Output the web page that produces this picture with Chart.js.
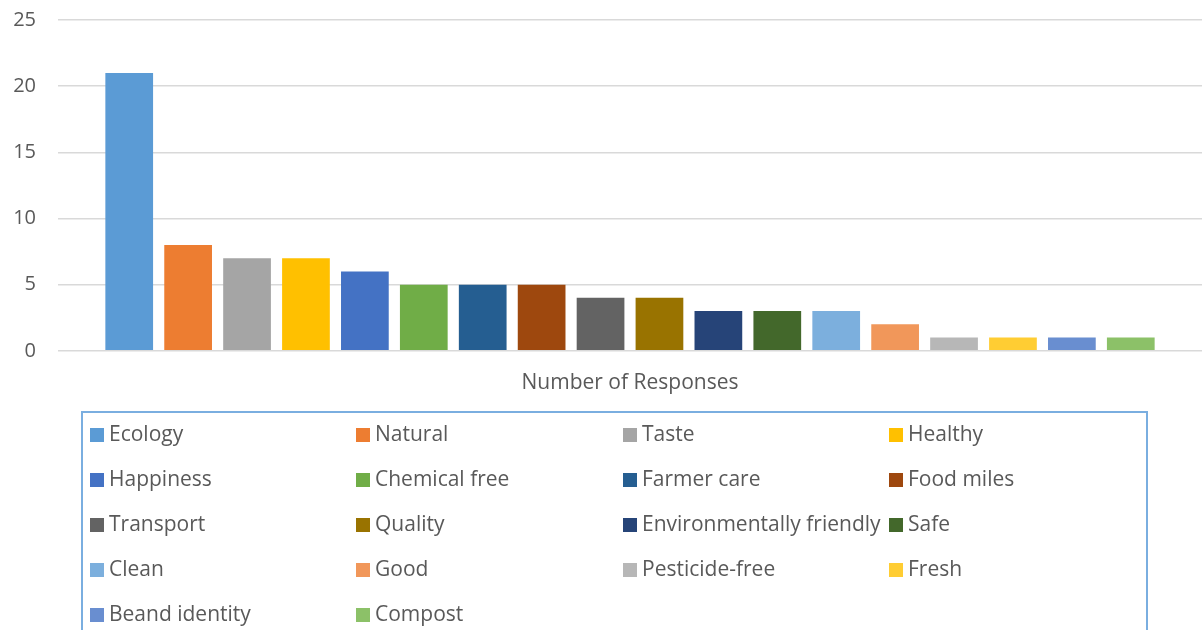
<!DOCTYPE html>
<html>
<head>
<meta charset="utf-8">
<script src="https://cdn.jsdelivr.net/npm/chart.js@4"></script>
<style>
  html, body { margin: 0; padding: 0; background: #fff; }
  #wrap { position: relative; width: 1202px; height: 630px; overflow: hidden; }
  #chart { position: absolute; left: 0; top: -14px; }
</style>
</head>
<body>
<div id="wrap"><canvas id="chart" width="1202" height="644"></canvas></div>
<script>
// Survey answers: how often each attribute was mentioned
const categories = ['Number of Responses'];
const attributes = [
  'Ecology', 'Natural', 'Taste', 'Healthy', 'Happiness', 'Chemical free',
  'Farmer care', 'Food miles', 'Transport', 'Quality', 'Environmentally friendly',
  'Safe', 'Clean', 'Good', 'Pesticide-free', 'Fresh', 'Beand identity', 'Compost'
];
const responses = [21, 8, 7, 7, 6, 5, 5, 5, 4, 4, 3, 3, 3, 2, 1, 1, 1, 1];
const colors = [
  '#5B9BD5', '#ED7D31', '#A5A5A5', '#FFC000', '#4472C4', '#70AD47',
  '#255E91', '#9E480E', '#636363', '#997300', '#264478', '#43682B',
  '#7CAFDD', '#F1975A', '#B7B7B7', '#FFCD33', '#698ED0', '#8CC168'
];
const yTicks = [0, 5, 10, 15, 20, 25];

const FONT = "'Open Sans', 'Liberation Sans', sans-serif";
const TEXT = '#595959';
const SHIFT = 14; // canvas sits 14px above the page top

// Boxed four-column legend drawn under the plot
const gridLegend = {
  id: 'gridLegend',
  afterDraw(chart) {
    const ctx = chart.ctx;
    const items = Chart.defaults.plugins.legend.labels.generateLabels(chart);
    const box = { left: 82, top: 412 + SHIFT, right: 1147, bottom: 660 };
    const colX0 = 90, colStep = 266.4;
    const rowY0 = 435 + SHIFT, rowStep = 45, mark = 14;
    ctx.save();
    ctx.strokeStyle = '#7AAEE0';
    ctx.lineWidth = 2;
    ctx.strokeRect(box.left, box.top, box.right - box.left, box.bottom - box.top);
    ctx.font = '21px ' + FONT;
    ctx.textBaseline = 'middle';
    ctx.textAlign = 'left';
    items.forEach((it, i) => {
      const x = Math.round(colX0 + (i % 4) * colStep);
      const y = rowY0 + Math.floor(i / 4) * rowStep;
      ctx.fillStyle = it.fillStyle;
      ctx.fillRect(x, y - mark / 2, mark, mark);
      ctx.fillStyle = TEXT;
      ctx.fillText(it.text, x + mark + 5, y);
    });
    ctx.restore();
  }
};

new Chart(document.getElementById('chart'), {
  type: 'bar',
  data: {
    labels: categories,
    datasets: attributes.map((name, i) => ({
      label: name,
      data: [responses[i]],
      backgroundColor: colors[i],
      borderWidth: 0,
      categoryPercentage: 0.927,
      barPercentage: 0.81
    }))
  },
  options: {
    responsive: false,
    animation: false,
    layout: { padding: { left: 10, right: 0, top: 0, bottom: 214 } },
    plugins: {
      legend: { display: false },
      tooltip: { enabled: false }
    },
    scales: {
      x: {
        grid: { display: false, drawTicks: false },
        border: { display: false },
        ticks: { color: TEXT, font: { family: FONT, size: 21 }, padding: 20 }
      },
      y: {
        min: 0,
        max: 25,
        afterBuildTicks(scale) { scale.ticks = yTicks.map(v => ({ value: v })); },
        afterFit(scale) { scale.width = 48; },
        grid: { color: '#D9D9D9', lineWidth: 1.5, drawTicks: false },
        border: { display: false },
        ticks: { color: TEXT, font: { family: FONT, size: 20 }, padding: 22 }
      }
    }
  },
  plugins: [gridLegend]
});
</script>
</body>
</html>
